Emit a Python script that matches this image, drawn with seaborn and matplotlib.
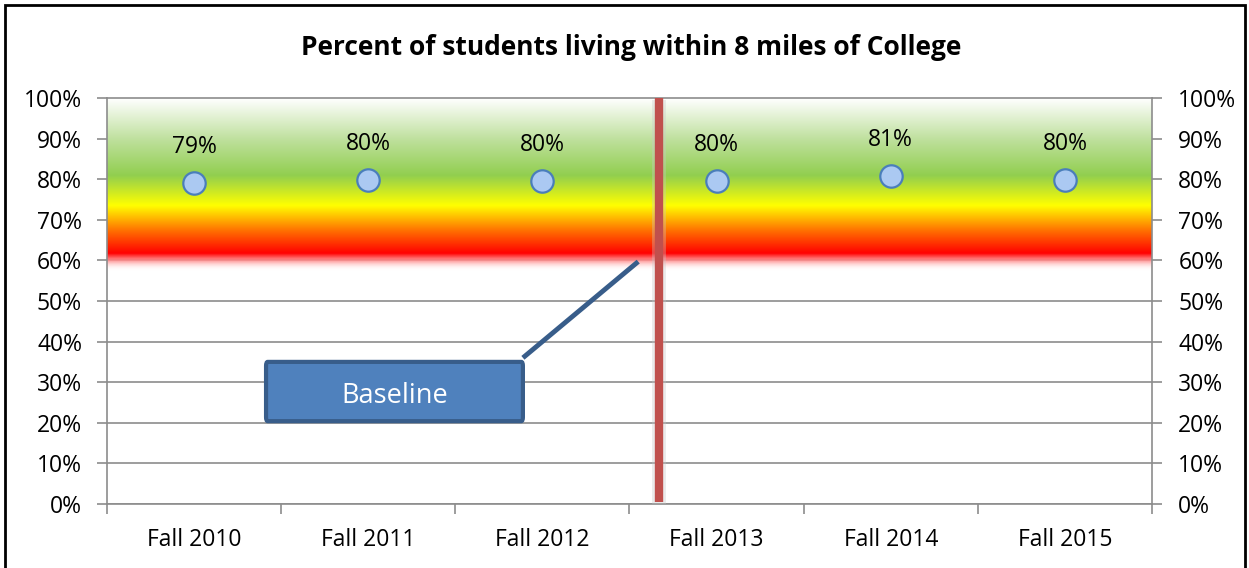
import numpy as np
import pandas as pd
import seaborn as sns
import matplotlib.pyplot as plt
from matplotlib.colors import LinearSegmentedColormap
from matplotlib.patches import Rectangle, FancyBboxPatch

terms = ["Fall 2010", "Fall 2011", "Fall 2012", "Fall 2013", "Fall 2014", "Fall 2015"]
pct_within_8mi = [0.791, 0.798, 0.795, 0.796, 0.808, 0.798]
y_ticks = [0.0, 0.1, 0.2, 0.3, 0.4, 0.5, 0.6, 0.7, 0.8, 0.9, 1.0]
baseline_x = 3.17  # red baseline divider between 2012 and 2013

sns.set_theme(style="white")
plt.rcParams["font.family"] = ["Open Sans", "DejaVu Sans"]
plt.rcParams["text.color"] = "black"

df = pd.DataFrame({"term": terms, "pct": pct_within_8mi})
df["pos"] = np.arange(len(df)) + 0.5

fig = plt.figure(figsize=(12.49, 5.68), dpi=100)
ax = fig.add_axes([0.0857, 0.1127, 0.9223 - 0.0857, 0.8275 - 0.1127])

# gradient target band (white -> green -> yellow -> red -> white)
stops = [
    (0.575, (1, 1, 1, 0)),
    (0.600, (1, 0.55, 0.55, 0.9)),
    (0.618, (1, 0, 0, 1)),
    (0.675, (1, 0.45, 0, 1)),
    (0.736, (1, 1, 0, 1)),
    (0.810, (0.57, 0.81, 0.31, 1)),
    (0.900, (0.75, 0.88, 0.62, 1)),
    (1.000, (1, 1, 1, 1)),
]
lo, hi = stops[0][0], stops[-1][0]
cmap = LinearSegmentedColormap.from_list(
    "band", [((v - lo) / (hi - lo), c) for v, c in stops], N=512)
grad = np.linspace(0, 1, 400).reshape(-1, 1)
ax.imshow(grad, cmap=cmap, aspect="auto", origin="lower",
          extent=[0, len(terms), lo, hi], zorder=2, interpolation="bilinear")

ax.set_xlim(0, len(terms))
ax.set_ylim(0, 1)
ax.set_yticks(y_ticks)
ax.set_yticklabels([f"{t:.0%}" for t in y_ticks])
ax.yaxis.grid(True, color="#8c8c8c", linewidth=1.2, zorder=1)
ax.set_axisbelow(True)

ax.set_xticks(range(len(terms) + 1))
ax.set_xticklabels([])
ax.set_xticks(df["pos"], minor=True)
ax.set_xticklabels(terms, minor=True)
ax.tick_params(axis="x", which="major", length=7, width=1.2, color="#8c8c8c", direction="out", bottom=True)
ax.tick_params(axis="x", which="minor", length=0, pad=17, labelsize=16.5, labelcolor="black")
ax.tick_params(axis="y", length=7, width=1.2, color="#8c8c8c", direction="out", left=True,
               labelsize=16.5, pad=11, labelcolor="black")

for side in ["left", "right", "bottom", "top"]:
    ax.spines[side].set_color("#8c8c8c")
    ax.spines[side].set_linewidth(1.2)
ax.spines["right"].set_visible(False)

ax2 = ax.twinx()
ax2.set_ylim(0, 1)
ax2.set_yticks(y_ticks)
ax2.set_yticklabels([f"{t:.0%}" for t in y_ticks])
ax2.tick_params(axis="y", length=7, width=1.2, color="#8c8c8c", direction="out", right=True,
                labelsize=16.5, pad=12, labelcolor="black")
for side in ["left", "right", "bottom", "top"]:
    ax2.spines[side].set_visible(side == "right")
ax2.spines["right"].set_color("#8c8c8c")
ax2.spines["right"].set_linewidth(1.2)

# baseline divider with soft shadow
ax.plot([baseline_x, baseline_x], [0.0, 0.995], color="#c8c8c8", lw=10, alpha=0.35, zorder=4, solid_capstyle="butt")
ax.plot([baseline_x, baseline_x], [0.005, 1.0], color="#c0504d", lw=6, zorder=5, solid_capstyle="butt")

sns.scatterplot(data=df, x="pos", y="pct", ax=ax, s=260, color="#abc9f2",
                edgecolor="#4a7ebb", linewidth=1.6, zorder=6, legend=False)
for _, r in df.iterrows():
    ax.text(r["pos"], r["pct"] + 0.088, f"{r['pct']:.0%}", ha="center", va="center",
            fontsize=16.5, color="black", zorder=7)
ax.set_xlabel("")
ax.set_ylabel("")

# Baseline callout
ax.plot([2.388, 3.05], [0.36, 0.597], color="#385d8a", lw=3.5, zorder=6, solid_capstyle="butt")
box = FancyBboxPatch((0.913, 0.204), 2.388 - 0.913, 0.146, boxstyle="round,pad=0,rounding_size=0.01",
                     facecolor="#4f81bd", edgecolor="#385d8a", linewidth=3, zorder=7)
ax.add_patch(box)
ax.text((0.913 + 2.388) / 2, 0.265, "Baseline", ha="center", va="center",
        color="white", fontsize=19.5, zorder=8)

fig.text(0.505, 0.917, "Percent of students living within 8 miles of College",
         ha="center", va="center", fontsize=19, fontweight="bold", color="black")

fig.patches.append(Rectangle((0.004, -0.02), 0.993, 1.011, transform=fig.transFigure,
                             fill=False, edgecolor="black", linewidth=2))

fig.savefig("out.png", dpi=100)
